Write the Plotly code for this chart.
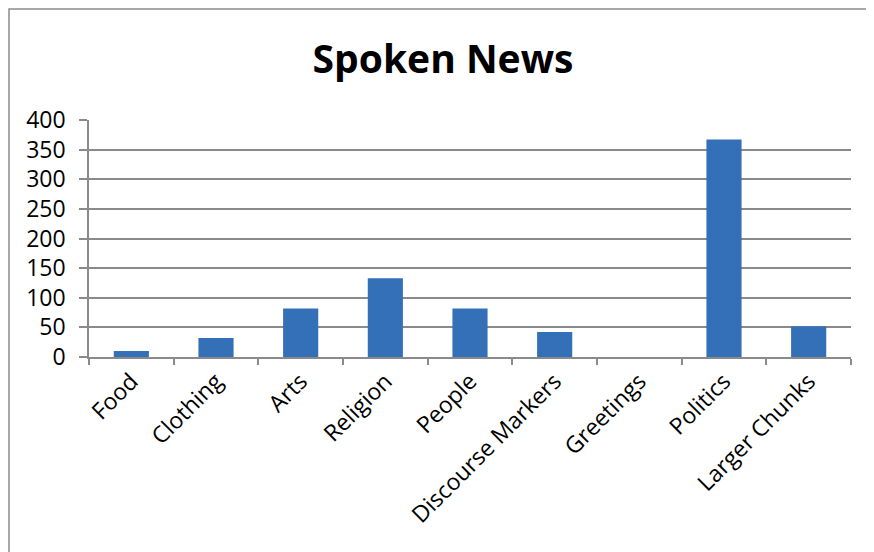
import plotly.graph_objects as go

categories = ["Food", "Clothing", "Arts", "Religion", "People",
              "Discourse Markers", "Greetings", "Politics", "Larger Chunks"]
values = [10, 32, 82, 133, 82, 42, 0, 367, 52]
y_ticks = [0, 50, 100, 150, 200, 250, 300, 350, 400]

W, H = 874, 552
# page body adds an 8px offset; positions below are compensated
L, T = 81, 112
pw, ph = 762, 237
R, B = W - L - pw, H - T - ph

grid = "#8a8a8a"
font_fam = "Open Sans, Liberation Sans, Arial, sans-serif"

fig = go.Figure(go.Bar(
    x=categories, y=values,
    marker=dict(color="#3370B8", line=dict(width=0)),
))

fig.update_layout(
    width=W, height=H,
    margin=dict(l=L, r=R, t=T, b=B, autoexpand=False),
    paper_bgcolor="white", plot_bgcolor="white",
    showlegend=False,
    title=dict(text="<b>Spoken News</b>", x=435 / W, xanchor="center",
               y=1 - 51 / H, yanchor="middle",
               font=dict(family=font_fam, size=39, color="black")),
    font=dict(family=font_fam, color="black"),
    bargap=0.585,
)
fig.update_xaxes(
    type="category", tickangle=-45, automargin=False,
    tickfont=dict(size=23, color="black"),
    showline=True, linecolor=grid, linewidth=1.5,
    ticks="outside", tickson="boundaries", ticklen=6, tickcolor=grid, tickwidth=1.5,
    showgrid=False, range=[-0.5, len(categories) - 0.5],
)
fig.update_yaxes(
    range=[0, 400], tickvals=y_ticks, automargin=False,
    tickfont=dict(size=23, color="black"), ticklabelstandoff=9,
    showgrid=True, gridcolor=grid, gridwidth=1.5,
    showline=True, linecolor=grid, linewidth=1.5,
    ticks="outside", ticklen=8, tickcolor=grid, tickwidth=1.5,
    zeroline=False,
)
# chart frame
fig.add_shape(type="rect", xref="paper", yref="paper",
              x0=(1 - L) / pw, x1=(861 - L) / pw,
              y0=(H - 620 - B) / ph, y1=(H - 1 - B) / ph,
              line=dict(color="#8c8c8c", width=1.5), fillcolor="rgba(0,0,0,0)", layer="below")

fig.write_html("out.html")
